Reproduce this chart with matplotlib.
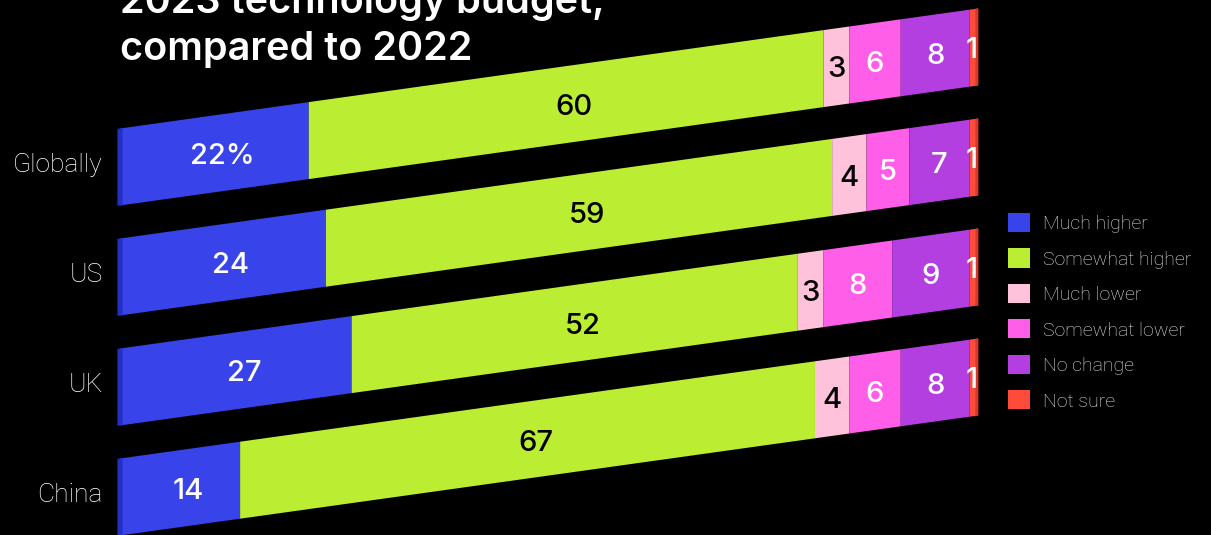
import math
import matplotlib
matplotlib.use("Agg")
import matplotlib.pyplot as plt
from matplotlib.patches import Patch
from matplotlib.transforms import Affine2D, ScaledTranslation

# ---- data ----
regions = ["Globally", "US", "UK", "China"]
series = ["Much higher", "Somewhat higher", "Much lower",
          "Somewhat lower", "No change", "Not sure"]
much_higher = [22, 24, 27, 14]
somewhat_higher = [60, 59, 52, 67]
much_lower = [3, 4, 3, 4]
somewhat_lower = [6, 5, 8, 6]
no_change = [8, 7, 9, 8]
not_sure = [1, 1, 1, 1]
values = [much_higher, somewhat_higher, much_lower,
          somewhat_lower, no_change, not_sure]

colors = ["#3843ea", "#bbee33", "#ffc2da", "#ff5ee8", "#b43fe0", "#ff4b3a"]
text_colors = ["white", "black", "black", "white", "white", "white"]
left_face = "#2230c4"
right_face = "#d6392c"

W, H, DPI = 1211, 535, 100
fig = plt.figure(figsize=(W / DPI, H / DPI), dpi=DPI, facecolor="black")

# axes spanning the bar area horizontally and the full figure vertically
x_left, x_right = 120, 978
ax = fig.add_axes([x_left / W, 0, (x_right - x_left) / W, 1])
ax.set_facecolor("black")
ax.set_xlim(0, 100)
top_center, spacing = 167, 110
ax.set_ylim((H - top_center) / spacing, -top_center / spacing)
ax.axis("off")

# shear so each bar rises toward the right (perspective look)
slope = 120 / 858
shear = (Affine2D().translate(-x_left, 0)
         .skew(0, math.atan(slope))
         .translate(x_left, 0))
tr = ax.transData + shear

bar_h = 0.70
ypos = list(range(len(regions)))

num_font = dict(family=["Inter", "Liberation Sans"], fontweight="medium",
                fontsize=21)
lefts = [0] * len(regions)
for k, (vals, col, tcol) in enumerate(zip(values, colors, text_colors)):
    ax.barh(ypos, vals, left=lefts, height=bar_h, color=col,
            transform=tr, clip_on=False, linewidth=0, zorder=1)
    # wide segments carry their label a little right of centre
    dx = 8 if k < 2 else (-2 if k == 5 else 0)
    lab_tr = tr + ScaledTranslation(dx / DPI, -3 / DPI, fig.dpi_scale_trans)
    for i, v in enumerate(vals):
        label = f"{v}%" if (i == 0 and k == 0) else f"{v}"
        ax.text(lefts[i] + v / 2, i, label, transform=lab_tr,
                ha="center", va="center", color=tcol, clip_on=False,
                zorder=5, **num_font)
    lefts = [l + v for l, v in zip(lefts, vals)]

# darker end faces give the bars a little depth
ax.barh(ypos, 0.6, left=-0.3, height=bar_h, color=left_face,
        transform=tr, clip_on=False, linewidth=0, zorder=2)
ax.barh(ypos, 0.35, left=[l - 0.3 for l in lefts], height=bar_h,
        color=right_face, transform=tr, clip_on=False, linewidth=0, zorder=2)

# region labels
for i, name in enumerate(regions):
    ax.text(-2.0, i - 0.02, name, ha="right", va="center", color="white",
            fontsize=19, family="Roboto", fontweight="light")

# title (first line runs off the top edge)
title_font = dict(color="white", fontsize=28.5,
                  family=["Inter", "Liberation Sans"],
                  fontweight="semibold", va="baseline", ha="left")
fig.text(x_left / W, 1 - 13 / H, "2023 technology budget,", **title_font)
fig.text(x_left / W, 1 - 60 / H, "compared to 2022", **title_font)

# legend
handles = [Patch(facecolor=c, edgecolor="none") for c in colors]
leg = fig.legend(handles, series, loc="upper left",
                 bbox_to_anchor=(1008 / W, 1 - 213 / H),
                 bbox_transform=fig.transFigure,
                 frameon=False, handlelength=1.13,
                 handleheight=1.13, labelspacing=0.79, handletextpad=0.67,
                 borderpad=0, borderaxespad=0,
                 prop={"family": "Roboto", "weight": "light", "size": 14})
for t in leg.get_texts():
    t.set_color("#e0e0e0")

fig.savefig("out.png", dpi=DPI, facecolor="black")
